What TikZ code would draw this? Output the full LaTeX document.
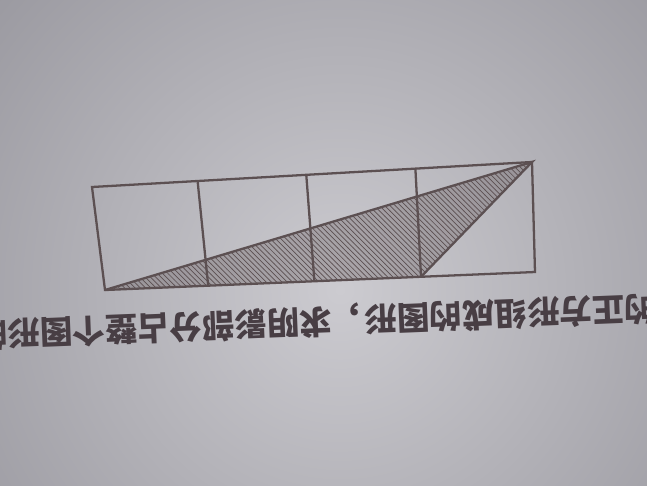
\documentclass[tikz,border=0pt]{standalone}
\usepackage{fontspec}
\newfontfamily\cjk{Noto Sans CJK SC}
\usetikzlibrary{patterns}
\usetikzlibrary{calc}
\definecolor{paper}{RGB}{204,203,208}
\definecolor{paperdark}{RGB}{128,127,135}
\definecolor{ink}{RGB}{92,80,82}
\definecolor{print}{RGB}{72,62,68}

\begin{document}
\begin{tikzpicture}[x=0.02cm,y=-0.02cm]
      \tikzstyle{edge}=[draw=ink,line width=1.3pt]
      \tikzstyle{hatch}=[pattern=north west lines,pattern color=ink]
      \useasboundingbox (0,0) rectangle (647,485);
      \clip (0,0) rectangle (647,485);
      % paper
      \fill[paperdark] (0,0) rectangle (647,485);
      \shade[inner color=paper,outer color=paperdark] (-360,-410) rectangle (1040,990);
      % corners of the strip
      \coordinate (tl) at (92,187);
      \coordinate (tr) at (532,162);
      \coordinate (br) at (535,272);
      \coordinate (bl) at (105,290);
      \coordinate (t1) at ($(tl)!0.24!(tr)$);
      \coordinate (t2) at ($(tl)!0.487!(tr)$);
      \coordinate (t3) at ($(tl)!0.735!(tr)$);
      \coordinate (b1) at ($(bl)!0.24!(br)$);
      \coordinate (b2) at ($(bl)!0.487!(br)$);
      \coordinate (b3) at ($(bl)!0.735!(br)$);
      % shaded triangle
      \fill[ink,opacity=0.3] (bl) -- (tr) -- (b3) -- cycle;
      \fill[hatch] (bl) -- (tr) -- (b3) -- cycle;
      % squares
      \draw[edge] (tl) -- (tr) -- (br) -- (bl) -- cycle;
      \draw[edge] (t1) -- (b1);
      \draw[edge] (t2) -- (b2);
      \draw[edge] (t3) -- (b3);
      \draw[edge] (bl) -- (tr) -- (b3);
      % caption, upside down
      \node[text=print,font=\cjk\bfseries\fontsize{18.5}{18.5}\selectfont,inner sep=0pt] (caption) at (326,321)
        {\rotatebox{182.3}{由4个相同的正方形组成的图形，求阴影部分占整个图形的几分之几}};
\end{tikzpicture}
\end{document}
